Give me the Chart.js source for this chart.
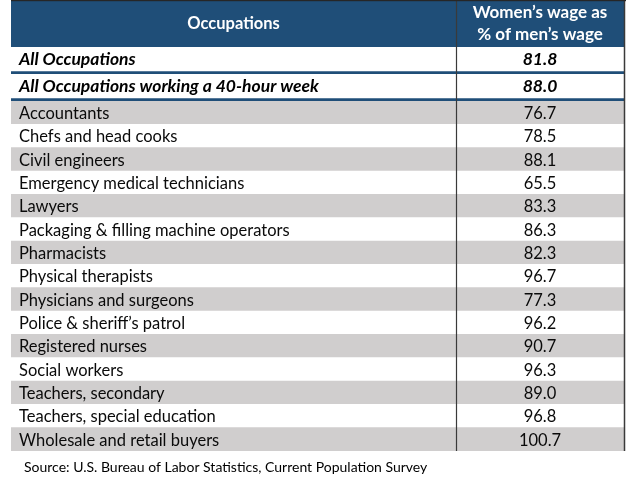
<!DOCTYPE html>
<html><head><meta charset="utf-8">
<script src="https://cdn.jsdelivr.net/npm/chart.js@4.4.1/dist/chart.umd.min.js"></script>
<style>
html,body{margin:0;padding:0;background:#ffffff;}
#wrap{position:relative;width:632px;height:492px;overflow:hidden;}
#wrap canvas{position:absolute;left:0;top:0;}
</style>
</head><body>
<div id="wrap"><canvas id="topChart" width="632" height="492"></canvas><canvas id="botChart" width="632" height="492"></canvas></div>
<script>
// ---- data ----
const columnHeaders = ['Occupations', ['Women\u2019s wage as', '% of men\u2019s wage']];
const summaryLabels = ['All Occupations', 'All Occupations working a 40-hour week'];
const summaryValues = [81.8, 88.0];
const occupations = [
  'Accountants',
  'Chefs and head cooks',
  'Civil engineers',
  'Emergency medical technicians',
  'Lawyers',
  'Packaging & filling machine operators',
  'Pharmacists',
  'Physical therapists',
  'Physicians and surgeons',
  'Police & sheriff\u2019s patrol',
  'Registered nurses',
  'Social workers',
  'Teachers, secondary',
  'Teachers, special education',
  'Wholesale and retail buyers'
];
const occupationValues = [76.7, 78.5, 88.1, 65.5, 83.3, 86.3, 82.3, 96.7, 77.3, 96.2, 90.7, 96.3, 89.0, 96.8, 100.7];
const sourceNote = 'Source: U.S. Bureau of Labor Statistics, Current Population Survey';

// ---- style ----
const FONT = 'Lato, "Open Sans", sans-serif';
const NAVY = '#1F4E78';
const GREY = '#D0CECE';
const LINE = '#3a3a3a';
const DIVIDER = 0.726; // column split as fraction of table width

function cellFill(labels) { return labels.map(() => [0, 1]); }

function baseOptions(padding, yLabels) {
  return {
    indexAxis: 'y',
    responsive: false,
    animation: false,
    events: [],
    devicePixelRatio: 1,
    layout: { padding: padding },
    plugins: { legend: { display: false }, tooltip: { enabled: false } },
    scales: {
      x: { type: 'linear', min: 0, max: 1, display: false },
      y: { type: 'category', labels: yLabels, offset: true, display: false }
    }
  };
}

// top chart: header + summary rows
const topPlugin = {
  id: 'topText',
  beforeDatasetsDraw(chart) {
    const ctx = chart.ctx, a = chart.chartArea, xs = chart.scales.x;
    ctx.save();
    ctx.fillStyle = NAVY;
    ctx.fillRect(a.left, 1, a.right - a.left + 1, a.top - 1);
    ctx.fillStyle = '#ffffff';
    ctx.textAlign = 'center';
    ctx.textBaseline = 'middle';
    ctx.font = 'bold 16.5px ' + FONT;
    ctx.fillText(columnHeaders[0], xs.getPixelForValue(DIVIDER / 2), (1 + a.top) / 2);
    const cx = xs.getPixelForValue((DIVIDER + 1) / 2);
    ctx.font = 'bold 17px ' + FONT;
    ctx.fillText(columnHeaders[1][0], cx, 13);
    ctx.fillText(columnHeaders[1][1], cx, 35);
    ctx.restore();
  },
  afterDatasetsDraw(chart) {
    const ctx = chart.ctx, a = chart.chartArea, xs = chart.scales.x;
    const meta = chart.getDatasetMeta(0);
    ctx.save();
    ctx.fillStyle = '#000000';
    ctx.textBaseline = 'middle';
    ctx.font = 'italic bold 17.5px ' + FONT;
    meta.data.forEach((el, i) => {
      const y = el.y - 1;
      ctx.textAlign = 'left';
      ctx.fillText(summaryLabels[i], a.left + 8, y);
      ctx.textAlign = 'center';
      ctx.fillText(summaryValues[i].toFixed(1), xs.getPixelForValue((DIVIDER + 1) / 2), y);
    });
    ctx.restore();
  }
};

new Chart(document.getElementById('topChart'), {
  type: 'bar',
  data: {
    labels: summaryLabels,
    datasets: [{
      data: cellFill(summaryLabels),
      backgroundColor: '#ffffff',
      borderColor: NAVY,
      borderWidth: { top: 0, left: 0, right: 0, bottom: 3 },
      borderSkipped: false,
      barPercentage: 1,
      categoryPercentage: 1
    }]
  },
  options: baseOptions({ top: 47, bottom: 391, left: 11, right: 8 }, summaryLabels),
  plugins: [topPlugin]
});

// bottom chart: occupation rows
const botPlugin = {
  id: 'botText',
  afterDatasetsDraw(chart) {
    const ctx = chart.ctx, a = chart.chartArea, xs = chart.scales.x;
    const meta = chart.getDatasetMeta(0);
    ctx.save();
    ctx.fillStyle = '#0a0a0a';
    ctx.textBaseline = 'middle';
    ctx.font = '16.5px ' + FONT;
    meta.data.forEach((el, i) => {
      const y = el.y + 1;
      ctx.textAlign = 'left';
      ctx.fillText(occupations[i], a.left + 8, y);
      ctx.textAlign = 'center';
      ctx.fillText(occupationValues[i].toFixed(1), xs.getPixelForValue((DIVIDER + 1) / 2), y);
    });
    // grid lines: top border, column divider, right border
    ctx.strokeStyle = LINE;
    ctx.lineWidth = 1.2;
    const dx = Math.round(xs.getPixelForValue(DIVIDER)) + 0.5;
    ctx.beginPath();
    ctx.moveTo(dx, 0); ctx.lineTo(dx, a.bottom);
    ctx.stroke();
    ctx.lineWidth = 1.5;
    ctx.beginPath();
    ctx.moveTo(a.right + 0.5, 0); ctx.lineTo(a.right + 0.5, a.bottom);
    ctx.stroke();
    ctx.fillStyle = '#262626';
    ctx.fillRect(a.left, 0, a.right - a.left + 2, 1.2);
    // source note
    ctx.fillStyle = '#000000';
    ctx.textAlign = 'left';
    ctx.font = '14px ' + FONT;
    ctx.fillText(sourceNote, a.left + 13, a.bottom + 16);
    ctx.restore();
  }
};

new Chart(document.getElementById('botChart'), {
  type: 'bar',
  data: {
    labels: occupations,
    datasets: [{
      data: cellFill(occupations),
      backgroundColor: occupations.map((_, i) => i % 2 === 0 ? GREY : '#ffffff'),
      borderWidth: 0,
      barPercentage: 1,
      categoryPercentage: 1
    }]
  },
  options: baseOptions({ top: 101, bottom: 41, left: 11, right: 8 }, occupations),
  plugins: [botPlugin]
});
</script>
</body></html>
